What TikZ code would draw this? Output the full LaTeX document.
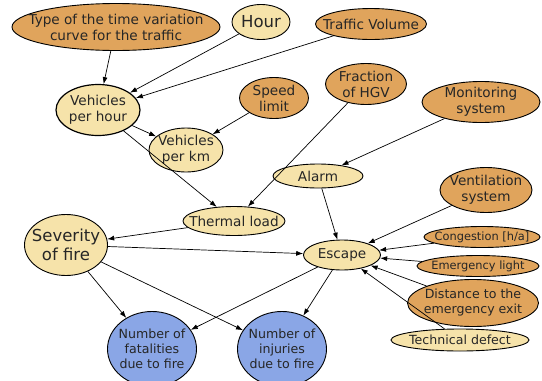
\documentclass[tikz,border=0pt]{standalone}
\usepackage{fontspec}
\setmainfont{DejaVu Sans}
\usetikzlibrary{shapes.geometric, arrows.meta}

\definecolor{inputc}{HTML}{E0A45C}
\definecolor{midc}{HTML}{F6E3AA}
\definecolor{outc}{HTML}{8AA6E6}

\tikzset{
	var/.style 2 args={ellipse, draw, line width=0.9pt, inner sep=0pt, minimum width=#1, minimum height=#2},
	invar/.style={fill=inputc},
	midvar/.style={fill=midc},
	outvar/.style={fill=outc},
	big/.style={align=center, text=black!85, font=\fontsize{16.5}{19}\selectfont},
	med/.style={align=center, text=black!85, font=\fontsize{13.6}{16}\selectfont},
	sml/.style={align=center, text=black!85, font=\fontsize{12.6}{15}\selectfont},
	tny/.style={align=center, text=black!85, font=\fontsize{11.4}{13}\selectfont},
	link/.style={line width=0.7pt, ->}
}

\begin{document}
\begin{tikzpicture}[x=1pt, y=-1pt, >={Latex[length=7pt, width=5pt]}]
	\useasboundingbox (0, 0) rectangle (542, 381);

	%inputs top
	\node[var={208pt}{47pt}, invar, label={[med]center:Type of the time variation\\curve for the traffic}] (curve) at (116, 27) {};
	\node[var={58pt}{35pt}, midvar, label={[big]center:Hour}] (hour) at (261, 22) {};
	\node[var={111pt}{31pt}, invar, label={[med]center:Traffic Volume}] (volume) at (371, 24) {};
	\node[var={84pt}{51pt}, midvar, line width=1.2pt, label={[med]center:Vehicles\\per hour}] (vph) at (98, 110) {};
	\node[var={69pt}{41pt}, invar, label={[med]center:Speed\\limit}] (speed) at (274, 98) {};
	\node[var={81pt}{41pt}, invar, label={[med]center:Fraction\\of HGV}] (hgv) at (366, 84) {};
	\node[var={74pt}{44pt}, midvar, label={[med]center:Vehicles\\per km}] (vpk) at (186, 150) {};
	\node[var={118pt}{41pt}, invar, label={[med]center:Monitoring\\system}] (monitor) at (481, 102) {};

	%middle
	\node[var={90pt}{24pt}, midvar, label={[med]center:Alarm}] (alarm) at (318, 176) {};
	\node[var={92pt}{45pt}, invar, label={[med]center:Ventilation\\system}] (vent) at (486, 190) {};
	\node[var={102pt}{29pt}, midvar, label={[med]center:Thermal load}] (thermal) at (234, 221) {};
	\node[var={83pt}{61pt}, midvar, label={[big]center:Severity\\of fire}] (severity) at (66, 245) {};
	\node[var={77pt}{30pt}, midvar, label={[med]center:Escape}] (escape) at (342, 255) {};

	%inputs right
	\node[var={116pt}{21pt}, invar, label={[tny]center:Congestion [h/a]}] (congest) at (482, 237) {};
	\node[var={122pt}{21pt}, invar, label={[tny]center:Emergency light}] (elight) at (478, 266) {};
	\node[var={131pt}{47pt}, invar, label={[sml]center:Distance to the\\emergency exit}] (exit) at (473, 303) {};
	\node[var={138pt}{22pt}, midvar, label={[sml]center:Technical defect}] (defect) at (460, 340) {};

	%outputs
	\node[var={89pt}{75pt}, outvar, label={[sml]center:Number of\\fatalities\\due to fire}] (fatal) at (152, 349) {};
	\node[var={89pt}{75pt}, outvar, label={[sml]center:Number of\\injuries\\due to fire}] (injury) at (282, 349) {};

	\draw[link] (curve) -- (vph);
	\draw[link] (hour) -- (vph);
	\draw[link] (volume) -- (vph);
	\draw[link] (vph) -- (vpk);
	\draw[link] (speed) -- (vpk);
	\draw[link] (vph) -- (thermal);
	\draw[link] (hgv) -- (thermal);
	\draw[link] (thermal) -- (severity);
	\draw[link] (monitor) -- (alarm);
	\draw[link] (alarm) -- (escape);
	\draw[link] (severity) -- (escape);
	\draw[link] (vent) -- (escape);
	\draw[link] (congest) -- (escape);
	\draw[link] (elight) -- (escape);
	\draw[link] (exit) -- (escape);
	\draw[link] (defect) -- (escape);
	\draw[link] (severity) -- (fatal);
	\draw[link] (severity) -- (injury);
	\draw[link] (escape) -- (fatal);
	\draw[link] (escape) -- (injury);
\end{tikzpicture}
\end{document}
